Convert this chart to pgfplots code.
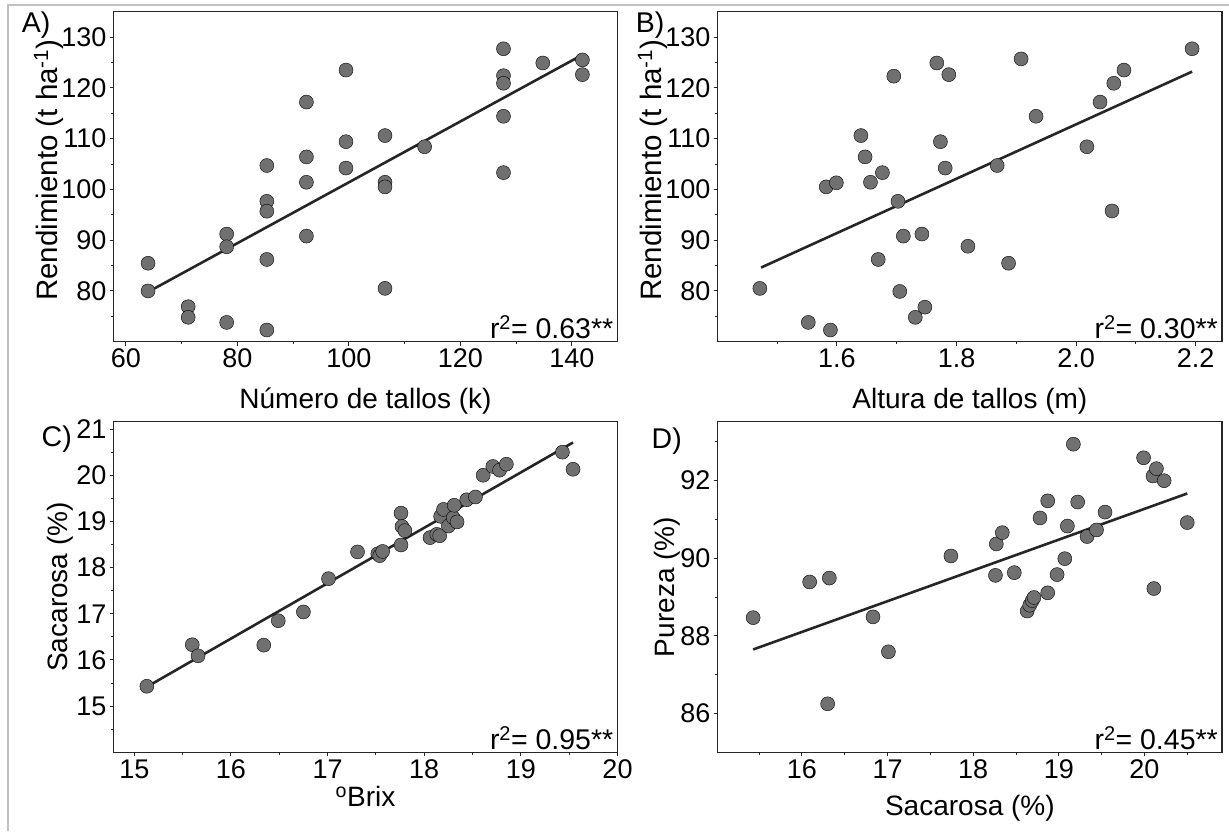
\documentclass[border=0pt]{standalone}
\usepackage{fontspec}
\setmainfont{Liberation Sans}
\usepackage{pgfplots}
\pgfplotsset{compat=1.18}
\definecolor{dotgray}{RGB}{112,112,112}
\definecolor{linegray}{RGB}{38,38,38}
\definecolor{framegray}{RGB}{192,192,192}
\pgfplotsset{
  panel/.style={
    scale only axis, anchor=south west, clip=false,
    tick align=outside, tick pos=left,
    major tick length=4pt, minor tick length=2.5pt,
    axis line style={line width=1.1pt, black!85},
    every tick/.append style={line width=1pt, black!85},
    /pgf/number format/assume math mode=true,
    tick label style={font=\fontsize{27}{30}\selectfont, inner sep=3pt},
    label style={font=\fontsize{28}{32}\selectfont},
  },
  dots/.style={only marks, mark=*, mark size=7pt, mark options={fill=dotgray, draw=none}},
  fit/.style={no marks, line width=2.6pt, color=linegray},
}
\newcommand{\rtwo}[1]{\node[anchor=base east, font=\fontsize{28.5}{32}\selectfont, inner sep=0pt] at (rel axis cs:1,0) [xshift=-4pt, yshift=3pt] {r\textsuperscript{2}= #1**};}
\begin{document}
\begin{tikzpicture}[x=1pt, y=1pt]
\useasboundingbox (0,0) rectangle (1229,831);
\draw[framegray, line width=1.5pt] (8,0) -- (8,826.2) -- (1229,826.2);

% ---------------- A ----------------
\begin{axis}[panel, at={(113.5pt,489.3pt)}, width=504pt, height=330pt,
  xmin=57.8, xmax=148.2, ymin=70, ymax=135,
  xtick={60,80,...,140}, minor xtick={70,90,110,130},
  ytick={80,90,...,130}, minor ytick={75,85,...,125},
  xlabel={Número de tallos (k)},
  ylabel={Rendimiento (t ha\textsuperscript{-1})},
  xlabel style={at={(axis description cs:0.5,-0.202)}, anchor=base},
  ylabel style={at={(axis description cs:-0.129,0.52)}, anchor=center, font=\fontsize{29.5}{32}\selectfont},
]
\addplot[dots] coordinates {
(64.0,85.45) (64.0,80.0) (71.2,76.9) (71.2,74.8) (78.1,91.2) (78.1,88.7) (78.1,73.8)
(85.3,104.7) (85.3,97.65) (85.3,95.7) (85.3,86.2) (85.3,72.3)
(92.4,117.2) (92.4,106.4) (92.4,101.4) (92.4,90.8)
(99.5,123.5) (99.5,109.4) (99.5,104.2)
(106.5,110.6) (106.5,101.4) (106.5,100.5) (106.5,80.5)
(113.6,108.4)
(127.75,127.7) (127.75,122.4) (127.75,120.9) (127.75,114.4) (127.75,103.3)
(134.8,124.9) (141.9,125.5) (141.9,122.6)
};
\addplot[fit] coordinates {(64.0,79.8) (141.9,126.5)};
\rtwo{0.63}
\end{axis}

% ---------------- B ----------------
\begin{axis}[panel, at={(717.7pt,489.3pt)}, width=504.3pt, height=330pt,
  xmin=1.4005, xmax=2.244, ymin=70, ymax=135,
  xtick={1.6,1.8,2.0,2.2}, minor xtick={1.5,1.7,1.9,2.1},
  xticklabel style={/pgf/number format/.cd, fixed, fixed zerofill, precision=1},
  ytick={80,90,...,130}, minor ytick={75,85,...,125},
  xlabel={Altura de tallos (m)},
  ylabel={Rendimiento (t ha\textsuperscript{-1})},
  xlabel style={at={(axis description cs:0.5,-0.202)}, anchor=base},
  ylabel style={at={(axis description cs:-0.129,0.52)}, anchor=center, font=\fontsize{29.5}{32}\selectfont},
]
\addplot[dots] coordinates {
(1.471,80.5) (1.552,73.8) (1.589,72.3) (1.582,100.5) (1.599,101.3)
(1.640,110.6) (1.647,106.4) (1.656,101.4) (1.676,103.3) (1.669,86.2)
(1.695,122.3) (1.702,97.65) (1.705,79.9) (1.711,90.8) (1.731,74.8)
(1.742,91.2) (1.747,76.8) (1.767,124.9) (1.773,109.4) (1.781,104.2)
(1.787,122.6) (1.819,88.8) (1.868,104.7) (1.887,85.45) (1.908,125.7)
(1.933,114.4) (2.018,108.4) (2.040,117.2) (2.060,95.75) (2.063,120.9)
(2.080,123.5) (2.194,127.7)
};
\addplot[fit] coordinates {(1.473,84.6) (2.194,123.2)};
\rtwo{0.30}
\end{axis}

% ---------------- C ----------------
\begin{axis}[panel, at={(113.5pt,78.7pt)}, width=504pt, height=330.6pt,
  xmin=14.785, xmax=20, ymin=14.0, ymax=21.16,
  xtick={15,...,20}, minor xtick={15.5,16.5,...,19.5},
  ytick={15,...,21}, minor ytick={14.5,15.5,...,20.5},
  xlabel={\textsuperscript{o}Brix},
  ylabel={Sacarosa (\%)},
  xlabel style={at={(axis description cs:0.5,-0.163)}, anchor=base},
  ylabel style={at={(axis description cs:-0.1056,0.5)}, anchor=center},
]
\addplot[dots] coordinates {
(15.13,15.43) (15.60,16.33) (15.66,16.09) (16.34,16.32) (16.49,16.85)
(16.75,17.04) (17.01,17.76) (17.31,18.34) (17.52,18.30) (17.54,18.26)
(17.57,18.35) (17.76,19.18) (17.77,18.89) (17.80,18.80) (17.76,18.49)
(18.06,18.65) (18.13,18.72) (18.16,18.69) (18.17,19.11) (18.20,19.26)
(18.25,18.90) (18.30,19.08) (18.31,19.35) (18.34,18.99) (18.44,19.47)
(18.53,19.53) (18.61,20.00) (18.71,20.19) (18.78,20.11) (18.85,20.24)
(19.43,20.50) (19.54,20.13)
};
\addplot[fit] coordinates {(15.14,15.43) (19.54,20.71)};
\rtwo{0.95}
\end{axis}

% ---------------- D ----------------
\begin{axis}[panel, at={(717.7pt,78.7pt)}, width=504.3pt, height=330.6pt,
  xmin=15.016, xmax=20.906, ymin=85.0, ymax=93.52,
  xtick={16,...,20}, minor xtick={15.5,16.5,...,20.5},
  ytick={86,88,90,92}, minor ytick={87,89,91,93},
  xlabel={Sacarosa (\%)},
  ylabel={Pureza (\%)},
  xlabel style={at={(axis description cs:0.5,-0.19)}, anchor=base},
  ylabel style={at={(axis description cs:-0.100,0.5)}, anchor=center},
]
\addplot[dots] coordinates {
(15.43,88.47) (16.09,89.39) (16.32,89.49) (16.30,86.25) (16.83,88.49)
(17.01,87.59) (17.74,90.06) (18.26,89.56) (18.27,90.37) (18.34,90.66)
(18.48,89.63) (18.63,88.64) (18.66,88.79) (18.69,88.91) (18.71,88.99)
(18.78,91.04) (18.87,91.48) (18.87,89.11) (18.98,89.58) (19.07,89.99)
(19.10,90.83) (19.17,92.94) (19.22,91.45) (19.33,90.56) (19.44,90.73)
(19.54,91.19) (19.99,92.59) (20.10,92.12) (20.14,92.31) (20.23,92.00)
(20.11,89.22) (20.50,90.92)
};
\addplot[fit] coordinates {(15.43,87.65) (20.50,91.67)};
\rtwo{0.45}
\end{axis}

% panel letters
\node[anchor=base west, font=\fontsize{28.5}{32}\selectfont, inner sep=0pt] at (21.7,798) {A)};
\node[anchor=base west, font=\fontsize{28.5}{32}\selectfont, inner sep=0pt] at (635.7,798) {B)};
\node[anchor=base west, font=\fontsize{28.5}{32}\selectfont, inner sep=0pt] at (41.5,384.3) {C)};
\node[anchor=base west, font=\fontsize{28.5}{32}\selectfont, inner sep=0pt] at (651.5,382) {D)};
\end{tikzpicture}
\end{document}
